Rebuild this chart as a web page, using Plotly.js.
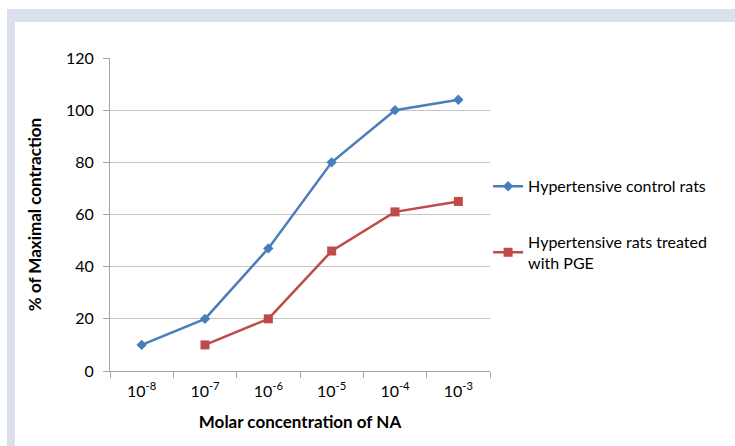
<!DOCTYPE html>
<html>
<head>
<meta charset="utf-8">
<script src="https://cdn.plot.ly/plotly-3.0.1.min.js"></script>
<style>
html,body{margin:0;padding:0;width:735px;height:446px;overflow:hidden;background:#ffffff;}
#bandTop{position:absolute;left:7px;top:9px;width:728px;height:13px;background:#dcdfee;}
#bandLeft{position:absolute;left:7px;top:9px;width:8px;height:437px;background:#dcdfee;}
#chart{position:absolute;left:15px;top:22px;width:720px;height:424px;}
</style>
</head>
<body>
<div id="bandTop"></div>
<div id="bandLeft"></div>
<div id="chart"></div>
<script>
var categories = ["10<sup>-8</sup>","10<sup>-7</sup>","10<sup>-6</sup>","10<sup>-5</sup>","10<sup>-4</sup>","10<sup>-3</sup>"];
var controlValues = [10, 20, 47, 80, 100, 104];
var treatedValues = [null, 10, 20, 46, 61, 65];
var yTicks = [0, 20, 40, 60, 80, 100, 120];

var font = "Lato";

var traces = [
  {x: categories, y: controlValues, type: "scatter", mode: "lines+markers",
   name: "Hypertensive control rats",
   line: {color: "#4a7ebb", width: 2.5},
   marker: {symbol: "diamond", size: 8, color: "#4a7ebb"},
   legend: "legend"},
  {x: categories, y: treatedValues, type: "scatter", mode: "lines+markers",
   name: "Hypertensive rats treated<br>with PGE",
   line: {color: "#be4b48", width: 2.5},
   marker: {symbol: "square", size: 9, color: "#be4b48"},
   connectgaps: false,
   legend: "legend2"}
];

var layout = {
  width: 720, height: 424,
  margin: {l: 95, r: 245, t: 36, b: 75},
  paper_bgcolor: "#ffffff", plot_bgcolor: "#ffffff",
  font: {family: font, size: 15, color: "#000000"},
  xaxis: {
    type: "category",
    range: [-0.5, 5.5],
    tickson: "boundaries",
    ticks: "outside", ticklen: 6, tickcolor: "#a6a6a6",
    showline: true, linecolor: "#a6a6a6", linewidth: 1,
    showgrid: false, zeroline: false,
    ticklabelstandoff: 6,
    tickfont: {family: font, size: 16, color: "#000"},
    title: {text: "<b>Molar concentration of NA</b>", font: {family: font, size: 17, color: "#000"}, standoff: 16}
  },
  yaxis: {
    range: [0, 120],
    tickvals: yTicks,
    ticks: "outside", ticklen: 6, tickcolor: "#a6a6a6",
    showline: true, linecolor: "#a6a6a6", linewidth: 1,
    showgrid: true, gridcolor: "#c4c4c4", gridwidth: 1,
    zeroline: false,
    ticklabelstandoff: 6,
    tickfont: {family: font, size: 16, color: "#000"},
    title: {text: "<b>% of Maximal contraction</b>", font: {family: font, size: 17, color: "#000"}, standoff: 20}
  },
  showlegend: true,
  legend: {x: 0.995, y: 0.59, xanchor: "left", yanchor: "middle",
    font: {family: font, size: 16, color: "#000"}, bgcolor: "rgba(0,0,0,0)", itemwidth: 30},
  legend2: {x: 0.995, y: 0.379, xanchor: "left", yanchor: "middle",
    font: {family: font, size: 16, color: "#000"}, bgcolor: "rgba(0,0,0,0)", itemwidth: 30}
};

Plotly.newPlot("chart", traces, layout, {displayModeBar: false, staticPlot: true});
</script>
</body>
</html>
